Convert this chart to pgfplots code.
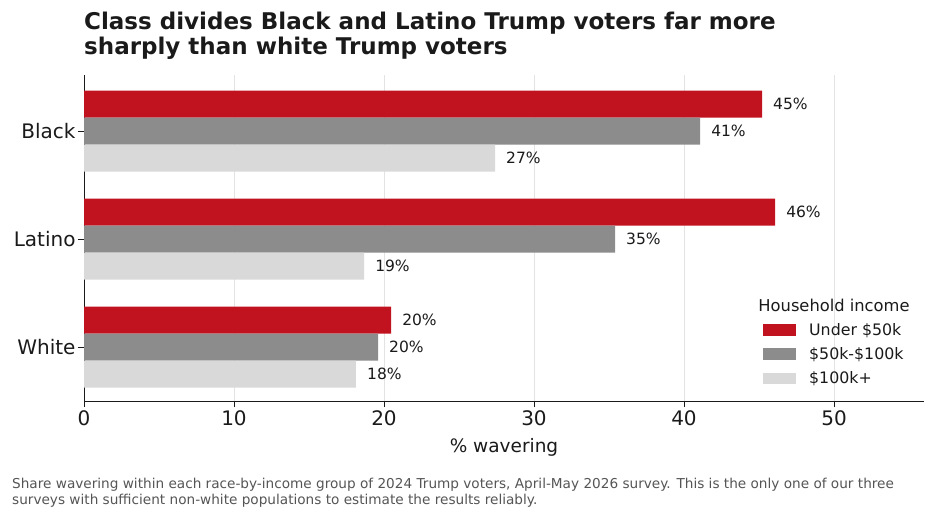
\documentclass[border=0pt]{standalone}
\usepackage{fontspec}
\setmainfont{DejaVu Sans}
\usepackage{pgfplots}
\pgfplotsset{compat=1.18}
\definecolor{cred}{HTML}{C1121F}
\definecolor{cgray}{HTML}{8C8C8C}
\definecolor{clight}{HTML}{D9D9D9}
\definecolor{ctext}{HTML}{1A1A1A}
\definecolor{cnote}{HTML}{555555}
\definecolor{cgrid}{HTML}{E3E3E3}
\begin{document}
\begin{tikzpicture}
\path[use as bounding box] (0,0) rectangle (936bp,520bp);
\begin{axis}[
  at={(84bp,119bp)}, anchor=south west,
  scale only axis, width=840bp, height=326bp,
  xmin=0, xmax=56, ymin=-0.5, ymax=2.52,
  xbar, bar width=0.25,
  axis x line*=bottom, axis y line*=left,
  axis line style={-, color=ctext, line width=0.9bp},
  xtick={0,10,20,30,40,50}, ytick={0,1,2}, yticklabels={White,Latino,Black},
  tick align=outside, major tick length=6bp,
  tick style={line width=0.9bp, color=ctext},
  xmajorgrids, ymajorgrids=false, grid style={color=cgrid, line width=0.9bp},
  /pgf/number format/assume math mode=true,
  tick label style={font=\fontsize{20bp}{23bp}\selectfont, text=ctext},
  yticklabel style={xshift=1bp},
  xlabel={\% wavering},
  xlabel style={font=\fontsize{18.5bp}{21bp}\selectfont, text=ctext, yshift=-6bp},
  point meta=x,
  nodes near coords={\pgfmathprintnumber[fixed,precision=0]{\pgfplotspointmeta}\%},
  nodes near coords style={anchor=west, inner sep=0pt, xshift=11bp, font=\fontsize{15.5bp}{18bp}\selectfont, text=ctext},
  legend style={at={(0.8083,0.2393)}, anchor=north west, draw=none, fill=none,
    font=\fontsize{15.8bp}{18bp}\selectfont, text=ctext, inner sep=0pt, row sep=10.6bp,
    nodes={inner sep=0pt},
    /tikz/every odd column/.append style={column sep=13bp}},
  legend cell align=left,
]
\addplot[fill=cred, draw=none, bar shift=0.25,
  legend image code/.code={\fill[cred] (0bp,-5.6bp) rectangle (33bp,5.6bp);}]
  coordinates {(20.47,0) (46.07,1) (45.2,2)};
\addlegendentry{Under \$50k}
\addplot[fill=cgray, draw=none, bar shift=0,
  legend image code/.code={\fill[cgray] (0bp,-5.6bp) rectangle (33bp,5.6bp);}]
  coordinates {(19.6,0) (35.4,1) (41.07,2)};
\addlegendentry{\$50k-\$100k}
\addplot[fill=clight, draw=none, bar shift=-0.25,
  legend image code/.code={\fill[clight] (0bp,-5.6bp) rectangle (33bp,5.6bp);}]
  coordinates {(18.13,0) (18.67,1) (27.4,2)};
\addlegendentry{\$100k+}
\end{axis}
\node[anchor=base, inner sep=0pt, font=\fontsize{16.3bp}{19bp}\selectfont, text=ctext] at (834bp,208.3bp) {Household income};
\node[anchor=base west, inner sep=0pt, font=\fontsize{23bp}{27bp}\selectfont\bfseries, text=ctext] at (84bp,490.7bp) {Class divides Black and Latino Trump voters far more};
\node[anchor=base west, inner sep=0pt, font=\fontsize{23bp}{27bp}\selectfont\bfseries, text=ctext] at (84bp,465.7bp) {sharply than white Trump voters};
\node[anchor=base west, inner sep=0pt, font=\fontsize{13.63bp}{16bp}\selectfont, text=cnote] at (12bp,31.7bp) {Share wavering within each race-by-income group of 2024 Trump voters, April-May 2026 survey. This is the only one of our three};
\node[anchor=base west, inner sep=0pt, font=\fontsize{13.63bp}{16bp}\selectfont, text=cnote] at (12bp,15.7bp) {surveys with sufficient non-white populations to estimate the results reliably.};
\end{tikzpicture}
\end{document}
